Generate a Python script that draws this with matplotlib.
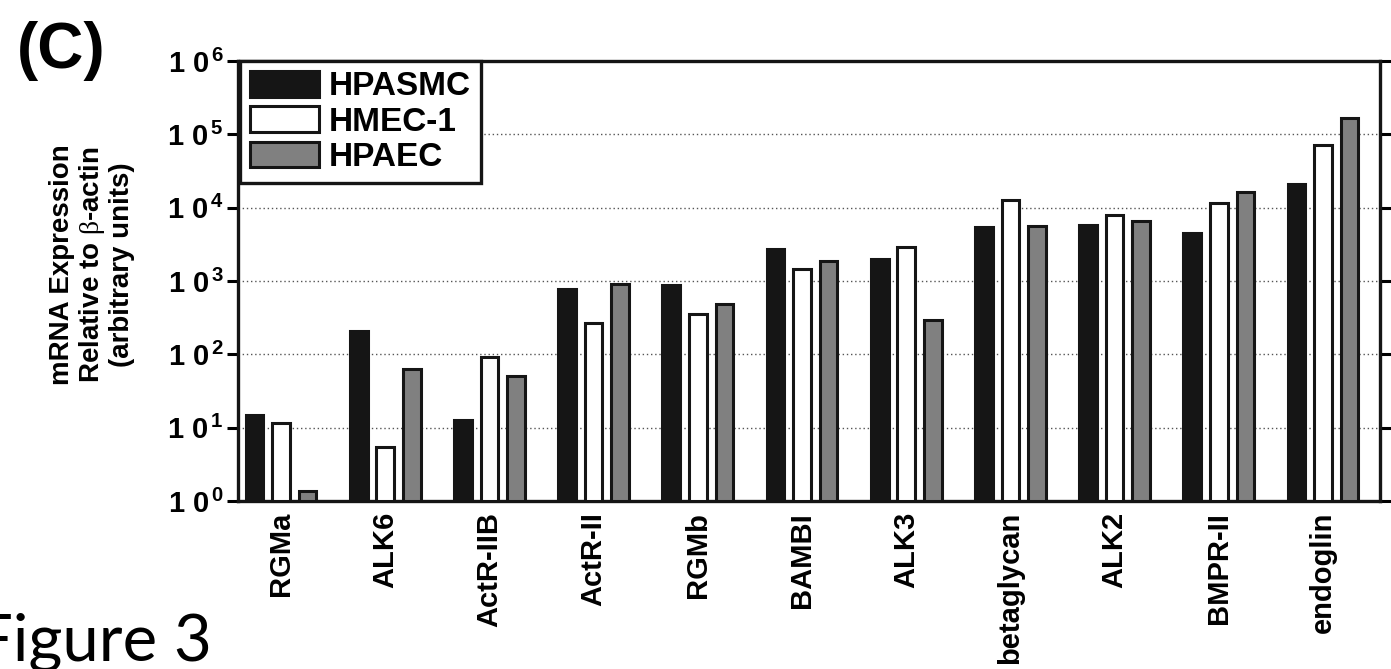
import matplotlib

matplotlib.use("Agg")
import matplotlib.pyplot as plt
import numpy as np

plt.rcParams["font.family"] = ["Liberation Sans", "DejaVu Sans"]
plt.rcParams["mathtext.fontset"] = "custom"
plt.rcParams["mathtext.rm"] = "Liberation Serif"
plt.rcParams["mathtext.bf"] = "Liberation Sans:bold"

# values (mRNA relative to beta-actin)
genes = ["RGMa", "ALK6", "ActR-IIB", "ActR-II", "RGMb", "BAMBI",
         "ALK3", "betaglycan", "ALK2", "BMPR-II", "endoglin"]
hpasmc = [15, 210, 12.8, 780, 890, 2750, 1970, 5450, 5870, 4460, 20900]
hmec1 = [11.4, 5.4, 92, 268, 360, 1440, 2930, 12600, 7960, 11700, 70700]
hpaec = [1.37, 63, 51, 905, 490, 1890, 291, 5690, 6580, 16400, 169000]

series = [("HPASMC", hpasmc, "#151515"),
          ("HMEC-1", hmec1, "#ffffff"),
          ("HPAEC", hpaec, "#808080")]

fig = plt.figure(figsize=(13.91, 6.69), dpi=100)
ax = fig.add_axes([238 / 1391, 1 - 501 / 669, (1380 - 238) / 1391, (501 - 61) / 669])

x = np.arange(len(genes))
offsets = (-0.255, 0.0, 0.255)
for (name, vals, color), off in zip(series, offsets):
    # bars start at the axis floor (10^0)
    heights = np.array(vals) - 1
    ax.bar(x + off, heights, width=0.17, bottom=1, color=color,
           edgecolor="#151515", linewidth=2.2, label=name, zorder=3)

ax.set_yscale("log")
ax.set_ylim(1, 1e6)
ax.set_xlim(-0.413, 10.547)

yticks = [10.0 ** k for k in range(7)]
ax.set_yticks(yticks)
ax.set_yticklabels([r"$\mathbf{1\;0^{\,%d}}$" % k for k in range(7)], fontsize=21)
ax.yaxis.set_minor_locator(matplotlib.ticker.NullLocator())
ax.tick_params(axis="y", which="major", length=8, width=2.2, direction="out",
               right=True, pad=2)
ax.set_xticks(x)
ax.set_xticklabels(genes, rotation=90, fontsize=21, fontweight="bold")
ax.tick_params(axis="x", length=0, pad=8)

for k in range(1, 6):
    ax.axhline(10.0 ** k, color="#555555", linestyle=(0, (1, 2)), linewidth=1,
               zorder=1)

for side in ("left", "right", "top", "bottom"):
    ax.spines[side].set_linewidth(2.4)
    ax.spines[side].set_color("#151515")

leg = ax.legend(loc="upper left", bbox_to_anchor=(0.002, 1), borderaxespad=0,
                fancybox=False, framealpha=1, edgecolor="#151515",
                prop={"weight": "bold", "size": 24}, handlelength=2.05,
                handleheight=0.8, handletextpad=0.3, labelspacing=0.12,
                borderpad=0.3)
leg.get_frame().set_linewidth(2.4)
leg.set_zorder(5)

fig.text(92 / 1391, 1 - 265 / 669,
         "mRNA Expression\nRelative to $\\mathrm{\\beta}$-actin\n(arbitrary units)",
         rotation=90, ha="center", va="center", ma="center",
         fontsize=20, fontweight="bold", linespacing=1.1)

fig.text(17 / 1391, 1 - 68 / 669, "(C)", fontsize=46, fontweight="bold",
         ha="left", va="baseline")
fig.text(212 / 1391, 1 - 660 / 669, "Figure 3", fontsize=47,
         family=["Lato", "Roboto", "DejaVu Sans"], fontweight="normal",
         ha="right", va="baseline")

fig.savefig("out.png", dpi=100)
